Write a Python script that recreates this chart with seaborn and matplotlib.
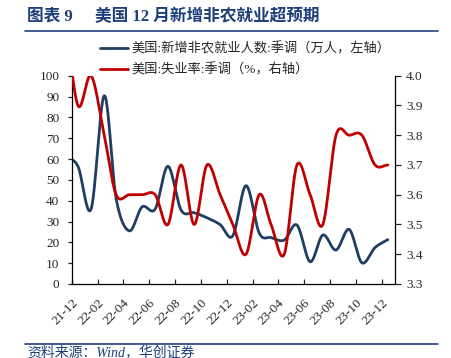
import numpy as np
import pandas as pd
import matplotlib
matplotlib.use("Agg")
import matplotlib.pyplot as plt
import matplotlib.dates as mdates
from matplotlib.lines import Line2D
import seaborn as sns

# ==========================================================
#  Data (monthly; Nov-21 sits left of the axis)
# ==========================================================
months = pd.date_range("2021-11-01", "2023-12-01", freq="MS") + pd.Timedelta(days=14)

payrolls = [61, 56.5, 36, 90.4, 41, 25.5, 37, 36, 56.5, 35.5, 34.2, 31.8, 28.5,
            23.2, 47.2, 24.5, 22.3, 21.1, 28.3, 10.7, 23.5, 16.3, 26.2, 10.2,
            17.5, 21.3]
unemployment = [4.2, 3.9, 4.0, 3.8, 3.6, 3.6, 3.6, 3.6, 3.5, 3.7, 3.5, 3.7, 3.6,
                3.5, 3.4, 3.6, 3.5, 3.4, 3.7, 3.6, 3.5, 3.8, 3.8, 3.8, 3.7, 3.7]

label_payrolls = "美国:新增非农就业人数:季调（万人，左轴）"
label_unemp = "美国:失业率:季调（%，右轴）"

BLUE = "#203D63"
RED = "#C00000"
NAVY = "#1F3F7A"


def smooth(dates, values, n=24):
    """Catmull-Rom curve through the points (Excel style smoothed line)."""
    x = mdates.date2num(pd.to_datetime(dates))
    y = np.asarray(values, float)
    px = np.r_[2 * x[0] - x[1], x, 2 * x[-1] - x[-2]]
    py = np.r_[2 * y[0] - y[1], y, 2 * y[-1] - y[-2]]
    t = np.linspace(0, 1, n, endpoint=False)
    xs, ys = [], []
    for i in range(1, len(px) - 2):
        for p, out in ((px, xs), (py, ys)):
            p0, p1, p2, p3 = p[i - 1:i + 3]
            out.append(0.5 * (2 * p1 + (p2 - p0) * t
                              + (2 * p0 - 5 * p1 + 4 * p2 - p3) * t ** 2
                              + (3 * p1 - p0 - 3 * p2 + p3) * t ** 3))
    xs = np.r_[np.concatenate(xs), x[-1]]
    ys = np.r_[np.concatenate(ys), y[-1]]
    return pd.DataFrame({"date": pd.to_datetime(xs, unit="D"), "value": ys})


sns.set_style("white")
plt.rcParams["font.family"] = ["Liberation Serif", "Noto Sans CJK SC"]

fig = plt.figure(figsize=(4.51, 3.58), dpi=100)
ax = fig.add_axes([72 / 451, 1 - 284 / 358, 323 / 451, 208.3 / 358])
ax2 = ax.twinx()

df_p = smooth(months, payrolls)
df_u = smooth(months, unemployment)
sns.lineplot(data=df_p, x="date", y="value", ax=ax, color=BLUE, lw=2.0,
             sort=False, estimator=None, label=label_payrolls, legend=False)
sns.lineplot(data=df_u, x="date", y="value", ax=ax2, color=RED, lw=2.0,
             sort=False, estimator=None, label=label_unemp, legend=False)

ax.set_xlim(pd.Timestamp("2021-12-01"), pd.Timestamp("2024-01-01"))
ax.set_ylim(0, 100)
ax2.set_ylim(3.3, 4.0)
ax.set_yticks(np.arange(0, 101, 10))
ax2.set_yticks(np.round(np.arange(3.3, 4.01, 0.1), 1))
ax2.yaxis.set_major_formatter(matplotlib.ticker.FormatStrFormatter("%.1f"))
ax.xaxis.set_major_locator(mdates.MonthLocator(bymonth=[2, 4, 6, 8, 10, 12]))
ax.xaxis.set_major_formatter(mdates.DateFormatter("%y-%m"))
ax.set_xlabel("")
ax.set_ylabel("")
ax2.set_ylabel("")

for a in (ax, ax2):
    for side in ("left", "right", "bottom"):
        a.spines[side].set_color("black")
        a.spines[side].set_linewidth(0.9)
    a.spines["top"].set_visible(False)
ax.spines["right"].set_visible(False)
ax2.spines["left"].set_visible(False)
ax2.spines["bottom"].set_visible(False)

ax.tick_params(axis="y", direction="out", length=3, width=0.9, pad=6,
               labelsize=9.5, left=True)
ax.tick_params(axis="x", direction="in", length=3.5, width=0.9, pad=9,
               labelsize=9.5, bottom=True)
ax2.tick_params(axis="y", direction="out", length=4, width=0.9, pad=4,
                labelsize=9.5, right=True)
for lab in ax.get_xticklabels():
    lab.set_rotation(45)
    lab.set_ha("right")
    lab.set_rotation_mode("anchor")

handles = [Line2D([], [], color=BLUE, lw=2.0), Line2D([], [], color=RED, lw=2.0)]
fig.legend(handles, [label_payrolls, label_unemp], loc="upper left",
           bbox_to_anchor=(100 / 451, 1 - 42.5 / 358), frameon=False,
           fontsize=9.5, handlelength=2.1, handletextpad=0.3,
           labelspacing=0.55, borderpad=0, borderaxespad=0)

# header and footer
fig.text(27 / 451, 1 - 17 / 358, "图表 9", fontsize=12, fontweight="bold",
         color=NAVY, va="center", ha="left")
fig.text(95 / 451, 1 - 17 / 358, "美国 12 月新增非农就业超预期", fontsize=12,
         fontweight="bold", color=NAVY, va="center", ha="left")
fig.add_artist(Line2D([25 / 451, 438 / 451], [1 - 31 / 358] * 2,
                      transform=fig.transFigure, color=NAVY, lw=1.2))
fig.add_artist(Line2D([25 / 451, 438 / 451], [1 - 344 / 358] * 2,
                      transform=fig.transFigure, color=NAVY, lw=1.2))
fig.text(27 / 451, 1 - 352 / 358, "资料来源：Wind，华创证券", fontsize=10,
         style="italic", color=NAVY, va="center", ha="left")

fig.savefig("out.png", dpi=100)
